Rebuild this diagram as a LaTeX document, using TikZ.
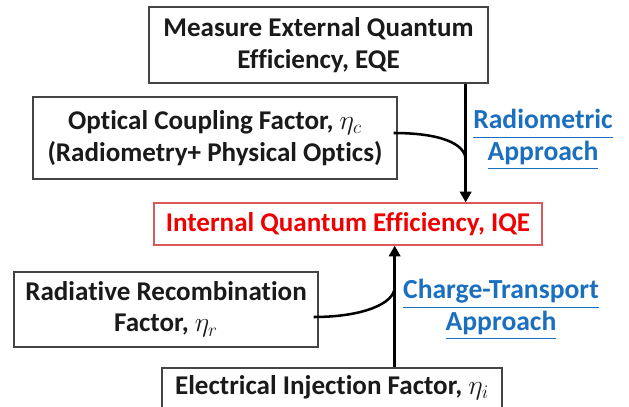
\documentclass[tikz,border=0pt]{standalone}
\usepackage{fontspec}
\setmainfont[Ligatures=NoCommon]{Carlito}
\usepackage{amsmath,amssymb}
\usetikzlibrary{arrows.meta,positioning,calc}
\definecolor{inkdark}{HTML}{1A1A1A}
\definecolor{boxline}{HTML}{444444}
\definecolor{iqered}{HTML}{F00000}
\definecolor{iqeline}{HTML}{D9595B}
\definecolor{linkblue}{HTML}{1B6FBF}
\newcommand{\ulink}[1]{\underline{#1\vphantom{gp}}}
\tikzset{
  factorbox/.style = {draw=boxline, line width=1pt, fill=white, text=inkdark,
                      align=center, inner sep=0pt,
                      font=\fontsize{20.3}{23.5}\selectfont\bfseries},
  iqebox/.style    = {draw=iqeline, line width=1pt, fill=white, text=iqered,
                      align=center, inner sep=0pt,
                      font=\fontsize{20.3}{23.5}\selectfont\bfseries},
  approach/.style  = {text=linkblue, align=center, inner sep=0pt,
                      font=\fontsize{20.7}{23.5}\selectfont\bfseries},
  flow/.style      = {-{Triangle[length=8pt,width=8.5pt]}, draw=black, line width=1.9pt},
  merge/.style     = {draw=black, line width=1.9pt},
}
\begin{document}
\begin{tikzpicture}[x=0.75pt,y=-0.75pt]
    \useasboundingbox (0,0) rectangle (629,407);
    \clip (0,0) rectangle (629,407);
    \node[factorbox,minimum width=339*0.75pt,minimum height=76*0.75pt] (eqe) at (318.5,45)
      {Measure External Quantum\\Efficiency, EQE};
    \node[factorbox,minimum width=364*0.75pt,minimum height=82*0.75pt] (opt) at (215,138)
      {Optical Coupling Factor, $\eta_c$\\(Radiometry+ Physical Optics)};
    \node[iqebox,minimum width=388*0.75pt,minimum height=42*0.75pt] (iqe) at (348,224)
      {Internal Quantum Efficiency, IQE};
    \node[factorbox,minimum width=304*0.75pt,minimum height=75*0.75pt] (rad) at (166,309.5)
      {Radiative Recombination\\Factor, $\eta_r$};
    \node[factorbox,minimum width=340*0.75pt,minimum height=40*0.75pt] (elec) at (332,388)
      {Electrical Injection Factor, $\eta_i$};
    \node[approach] (radlabel) at (543,140) {\ulink{Radiometric}\\\ulink{Approach}};
    \node[approach] (ctlabel) at (501,310) {\ulink{Charge-Transport}\\\ulink{Approach}};
    % radiometric branch
    \coordinate (rtop) at ($(eqe.south east)+(-23,0)$);
    \coordinate (rmeet) at (rtop |- 0,160);
    \draw[flow] (rtop) -- (rtop |- iqe.north);
    \draw[merge] ($(opt.east)+(-4,-5)$) .. controls +(45,0) and ($(rmeet)+(0,-17)$) .. (rmeet);
    % charge-transport branch
    \coordinate (cbot) at ($(elec.north east)+(-108,0)$);
    \coordinate (cmeet) at (cbot |- 0,287);
    \draw[flow] (cbot) -- (cbot |- iqe.south);
    \draw[merge] ($(rad.east)+(-5,7.5)$) .. controls +(48,0) and ($(cmeet)+(0,17)$) .. (cmeet);
\end{tikzpicture}
\end{document}
